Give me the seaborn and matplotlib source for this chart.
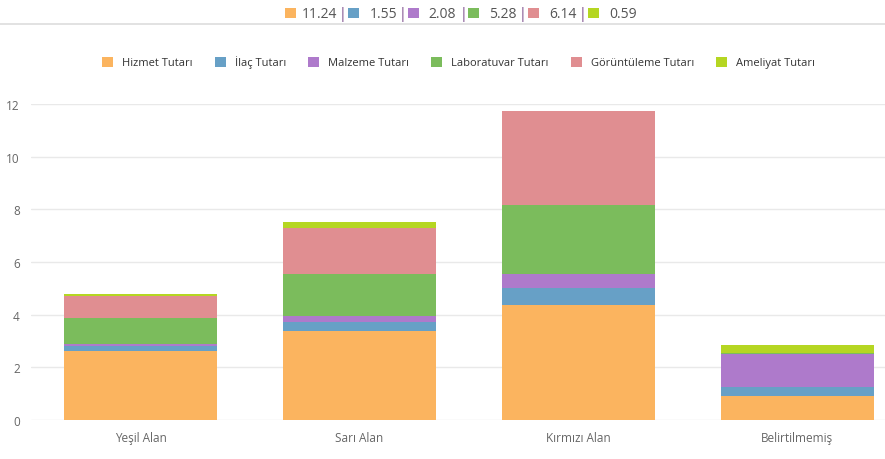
import numpy as np
import matplotlib
matplotlib.use('Agg')
import matplotlib.pyplot as plt
import seaborn as sns
from matplotlib.patches import Patch
from matplotlib.lines import Line2D

categories = ['Yeşil Alan', 'Sarı Alan', 'Kırmızı Alan', 'Belirtilmemiş']
series_names = ['Hizmet Tutarı', 'İlaç Tutarı', 'Malzeme Tutarı',
                'Laboratuvar Tutarı', 'Görüntüleme Tutarı', 'Ameliyat Tutarı']
hizmet = [2.62, 3.37, 4.35, 0.90]
ilac = [0.19, 0.36, 0.66, 0.34]
malzeme = [0.09, 0.22, 0.52, 1.25]
laboratuvar = [0.96, 1.60, 2.65, 0.07]
goruntuleme = [0.83, 1.76, 3.55, 0.00]
ameliyat = [0.10, 0.22, 0.00, 0.27]
colors = ['#fbb45f', '#67a0c6', '#ae7acb', '#7bbc5c', '#e08e91', '#b5d622']

series = [hizmet, ilac, malzeme, laboratuvar, goruntuleme, ameliyat]

sns.set_theme(style='white')
plt.rcParams['font.family'] = ['Open Sans', 'DejaVu Sans']

fig = plt.figure(figsize=(8.85, 4.6), dpi=100)
ax = fig.add_axes([31 / 885, 39 / 460, 854 / 885, 316 / 460])

bottom = np.zeros(len(categories))
for vals, col in zip(series, colors):
    sns.barplot(x=categories, y=vals, bottom=bottom, color=col, width=0.7,
                saturation=1, ax=ax, linewidth=0)
    bottom += np.array(vals)

ax.set_xlim(-0.5, 3.40)
ax.set_ylim(0, 12)
ax.set_yticks(range(0, 13, 2))
ax.yaxis.grid(True, color='#e9e9e9', linewidth=1)
ax.set_axisbelow(True)
for s in ax.spines.values():
    s.set_visible(False)
ax.tick_params(axis='both', length=0, labelsize=8.5, colors='#666666')
ax.tick_params(axis='y', pad=8)
ax.tick_params(axis='x', pad=8)
ax.set_xlabel('')
ax.set_ylabel('')

# legend
handles = [Patch(facecolor=c, edgecolor='none') for c in colors]
fig.legend(handles, series_names, loc='center', bbox_to_anchor=(0.518, 1 - 63 / 460),
           ncol=6, frameon=False, fontsize=8, handlelength=1.0, handleheight=1.0,
           handletextpad=0.8, columnspacing=2.0, labelcolor='#333333')

# header with totals
totals = [sum(s) for s in series]
sq_x = [285, 348, 408, 468, 528, 588]
txt_end = [337, 397, 456, 517, 577, 637]
sep_x = [343, 403, 463, 522, 583]
hy = 1 - 14 / 460
for i, (t, c) in enumerate(zip(totals, colors)):
    fig.add_artist(plt.Rectangle((sq_x[i] / 885, 1 - 19 / 460), 11 / 885, 10 / 460,
                                 facecolor=c, edgecolor='none', transform=fig.transFigure))
    fig.text(txt_end[i] / 885, hy, f'{t:.2f}', fontsize=10, color='#555555',
             ha='right', va='center')
for x in sep_x:
    fig.text(x / 885, hy, '|', fontsize=10, color='#7a4a8a', ha='center', va='center')
fig.add_artist(Line2D([0, 1], [1 - 25 / 460, 1 - 25 / 460], color='#dddddd',
                      linewidth=1.2, transform=fig.transFigure))

fig.savefig('out.png', dpi=100)
